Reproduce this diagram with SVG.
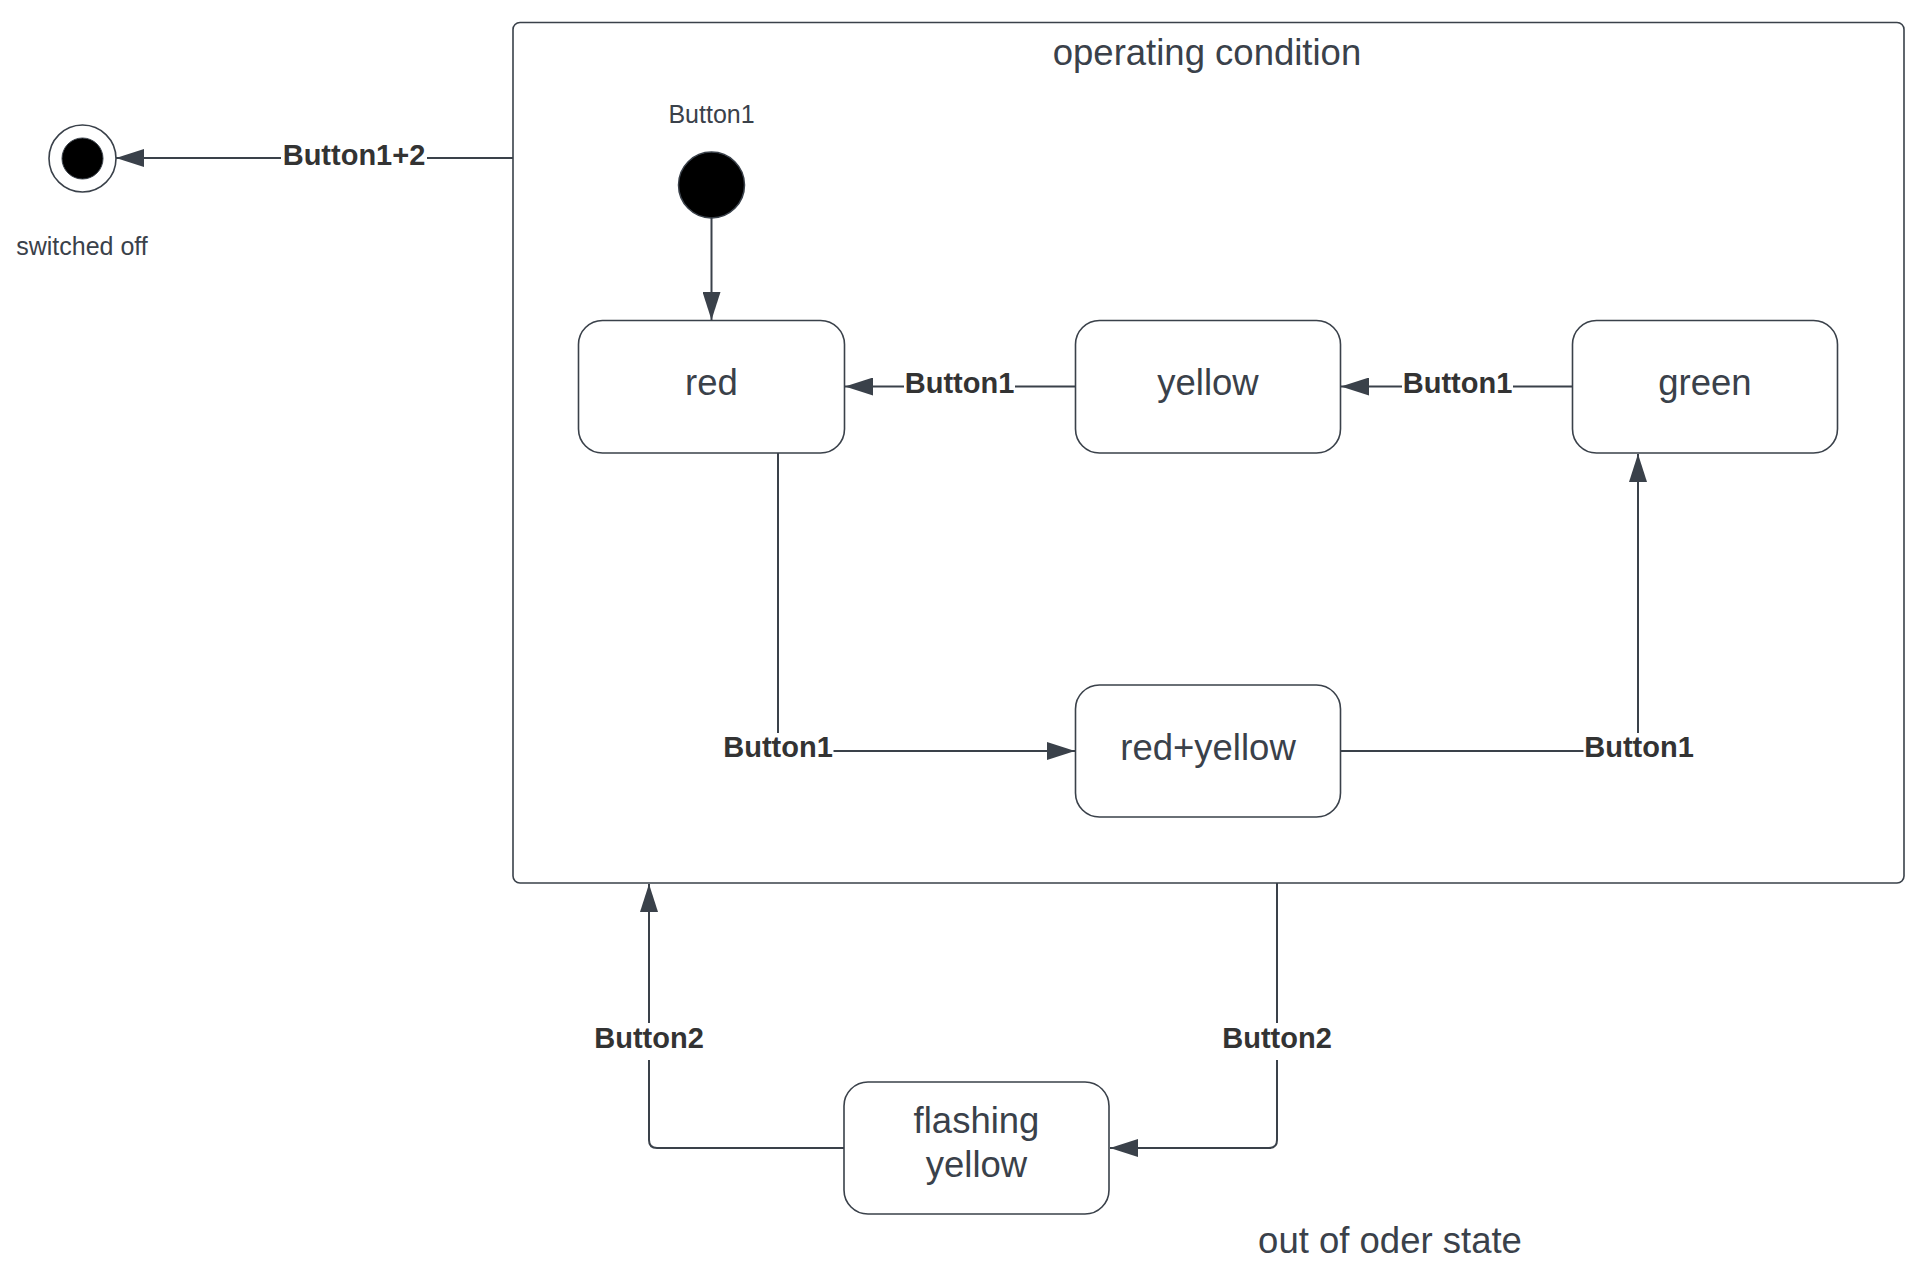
<svg xmlns="http://www.w3.org/2000/svg" width="1922" height="1284" viewBox="0 0 1922 1284">
  <style>
    .box { fill: #ffffff; stroke: #3a414a; stroke-width: 1.6; }
    .conn { fill: none; stroke: #3a414a; stroke-width: 2; }
    .node-text { font-family: "Liberation Sans", Arial, sans-serif; font-size: 36.5px; fill: #3a414a; text-anchor: middle; }
    .small-text { font-family: "Liberation Sans", Arial, sans-serif; font-size: 25px; fill: #3a414a; text-anchor: middle; }
    .lbl { font-family: "Liberation Sans", Arial, sans-serif; font-size: 29px; font-weight: bold; fill: #333333; text-anchor: middle; }
    .lbl-bg { fill: #ffffff; stroke: none; }
  </style>
  <defs>
    <marker id="arrow" viewBox="0 0 28 18" refX="28" refY="9" markerWidth="28" markerHeight="18" markerUnits="userSpaceOnUse" orient="auto">
      <path d="M0,0 L28,9 L0,18 z" fill="#3a414a"/>
    </marker>
  </defs>
  <rect width="1922" height="1284" fill="#ffffff"/>

  <g id="operating-condition">
    <rect class="box" x="513" y="22.5" width="1391" height="860.5" rx="7"/>
    <text class="node-text" x="1207" y="65">operating condition</text>
  </g>

  <g id="final-state">
    <circle cx="82.5" cy="158.5" r="33.5" fill="#ffffff" stroke="#3a414a" stroke-width="1.6"/>
    <circle cx="82.5" cy="158.5" r="20.5" fill="#000000" stroke="#3a414a" stroke-width="1"/>
    <text class="small-text" x="82" y="255">switched off</text>
  </g>

  <g id="initial-state">
    <circle cx="711.5" cy="185" r="33" fill="#000000" stroke="#3a414a" stroke-width="1.5"/>
    <text class="small-text" x="711.5" y="123">Button1</text>
  </g>

  <g id="red">
    <rect class="box" x="578.5" y="320.5" width="266" height="132.5" rx="24"/>
    <text class="node-text" x="711.5" y="395">red</text>
  </g>

  <g id="yellow">
    <rect class="box" x="1075.5" y="320.5" width="265" height="132.5" rx="24"/>
    <text class="node-text" x="1208" y="395">yellow</text>
  </g>

  <g id="green">
    <rect class="box" x="1572.5" y="320.5" width="265" height="132.5" rx="24"/>
    <text class="node-text" x="1705" y="395">green</text>
  </g>

  <g id="red-yellow">
    <rect class="box" x="1075.5" y="685" width="265" height="132" rx="24"/>
    <text class="node-text" x="1208" y="759.5">red+yellow</text>
  </g>

  <g id="flashing-yellow">
    <rect class="box" x="844" y="1082" width="265" height="132" rx="24"/>
    <text class="node-text" x="976.5" y="1133">flashing</text>
    <text class="node-text" x="976.5" y="1177">yellow</text>
  </g>

  <g id="out-of-order-label">
    <text class="node-text" x="1390" y="1253">out of oder state</text>
  </g>

  <g id="connectors">
    <path class="conn" d="M513,158 H116" marker-end="url(#arrow)"/>
    <path class="conn" d="M711.5,218 V320" marker-end="url(#arrow)"/>
    <path class="conn" d="M1075.5,386.5 H845" marker-end="url(#arrow)"/>
    <path class="conn" d="M1572.5,386.5 H1341" marker-end="url(#arrow)"/>
    <path class="conn" d="M778,453 V751 H1075" marker-end="url(#arrow)"/>
    <path class="conn" d="M1340.5,751 H1638 V454" marker-end="url(#arrow)"/>
    <path class="conn" d="M1277,883 V1140 Q1277,1148 1269,1148 H1110" marker-end="url(#arrow)"/>
    <path class="conn" d="M844,1148 H657 Q649,1148 649,1140 V884" marker-end="url(#arrow)"/>

    <rect class="lbl-bg" x="281" y="142" width="146" height="30"/>
    <text class="lbl" x="354" y="165">Button1+2</text>

    <rect class="lbl-bg" x="904" y="371" width="111" height="30"/>
    <text class="lbl" x="959.5" y="393">Button1</text>

    <rect class="lbl-bg" x="1402" y="371" width="111" height="30"/>
    <text class="lbl" x="1457.5" y="393">Button1</text>

    <rect class="lbl-bg" x="722.5" y="733" width="111" height="32"/>
    <text class="lbl" x="778" y="757">Button1</text>

    <rect class="lbl-bg" x="1583.5" y="733" width="111" height="32"/>
    <text class="lbl" x="1639" y="757">Button1</text>

    <rect class="lbl-bg" x="593.5" y="1023" width="111" height="37"/>
    <text class="lbl" x="649" y="1048">Button2</text>

    <rect class="lbl-bg" x="1221.5" y="1023" width="111" height="37"/>
    <text class="lbl" x="1277" y="1048">Button2</text>
  </g>
</svg>
